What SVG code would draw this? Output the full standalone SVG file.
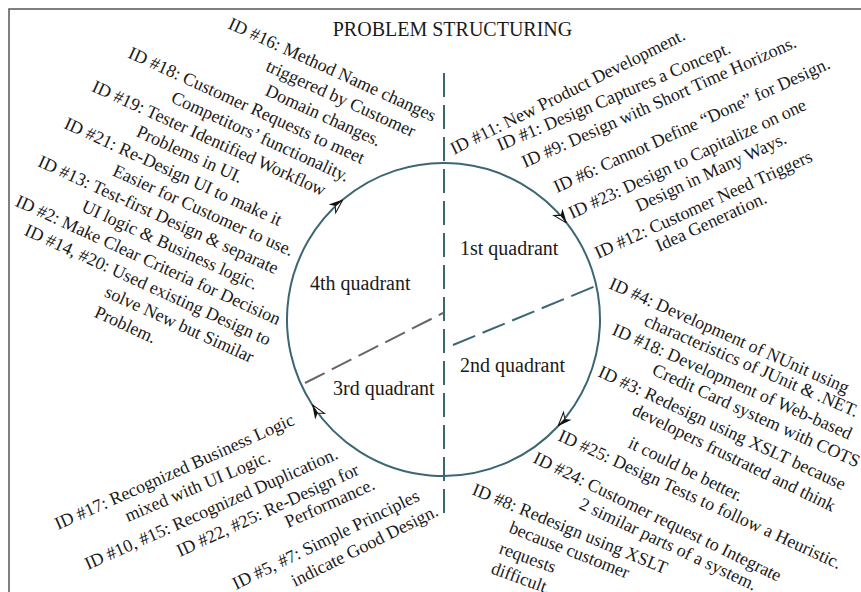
<svg xmlns="http://www.w3.org/2000/svg" width="861" height="592" viewBox="0 0 861 592">
<style>
text{font-family:"Liberation Serif","Times New Roman",serif;fill:#1a1a1a}
.t{font-size:18px}
.q{font-size:20px}
.title{font-size:20px}
.circ{fill:none;stroke:#3b6673;stroke-width:2}
.dash{fill:none;stroke:#3b6673;stroke-width:2;stroke-dasharray:24 8}
.dashg{fill:none;stroke:#666;stroke-width:2;stroke-dasharray:22 8}
</style>
<defs>
<marker id="arr" markerUnits="userSpaceOnUse" markerWidth="20" markerHeight="14" viewBox="-16 -7 18 14" refX="0" refY="0" orient="auto">
<path d="M0,0 L-14,-5.5 L-10,0 Z" fill="#111"/>
<path d="M0,0 L-14,5.5 L-10,0 Z" fill="#fff" stroke="#111" stroke-width="1"/>
</marker>
</defs>
<rect x="0" y="0" width="861" height="592" fill="#fff"/>
<rect id="frame" x="9" y="9" width="900" height="620" fill="none" stroke="#555" stroke-width="1.5"/>
<g id="title"><text class="title" x="452.5" y="36" text-anchor="middle">PROBLEM STRUCTURING</text></g>

<g id="dividers">
<line class="dash" x1="444" y1="73" x2="444" y2="515"/>
<line class="dash" x1="453" y1="345" x2="598" y2="285"/>
<line class="dashg" x1="305" y1="383" x2="443" y2="313"/>
</g>

<g id="connectors">
<path class="circ" d="M312.2,404.7 A156.5,156.5 0 0 1 342.9,199.6" marker-end="url(#arr)"/>
<path class="circ" d="M342.9,199.6 A156.5,156.5 0 0 1 566.8,223.1" marker-end="url(#arr)"/>
<path class="circ" d="M566.8,223.1 A156.5,156.5 0 0 1 558.0,426.2" marker-end="url(#arr)"/>
<path class="circ" d="M558.0,426.2 A156.5,156.5 0 0 1 312.2,404.7" marker-end="url(#arr)"/>
</g>

<g id="q1"><text class="q" x="460" y="255">1st quadrant</text></g>
<g id="q2"><text class="q" x="460" y="372">2nd quadrant</text></g>
<g id="q3"><text class="q" x="333" y="395">3rd quadrant</text></g>
<g id="q4"><text class="q" x="310" y="290">4th quadrant</text></g>

<g id="notes-q1">
<text class="t" x="454" y="155" transform="rotate(-26.5 454 155)">ID #11: New Product Development.</text>
<text class="t" x="500" y="151" transform="rotate(-23 500 151)">ID #1: Design Captures a Concept.</text>
<text class="t" x="525" y="168" transform="rotate(-24 525 168)">ID #9: Design with Short Time Horizons.</text>
<text class="t" x="557" y="193" transform="rotate(-24.5 557 193)">ID #6: Cannot Define “Done” for Design.</text>
<text class="t" x="572" y="219" transform="rotate(-25 572 219)">ID #23: Design to Capitalize on one</text>
<text class="t" x="639" y="212" transform="rotate(-25 639 212)">Design in Many Ways.</text>
<text class="t" x="598" y="259" transform="rotate(-24.5 598 259)">ID #12: Customer Need Triggers</text>
<text class="t" x="659" y="252" transform="rotate(-24.5 659 252)">Idea Generation.</text>
</g>

<g id="notes-q4">
<text class="t" x="227.1" y="28.1" transform="rotate(24.5 227.1 28.1)">ID #16: Method Name changes</text>
<text class="t" x="264.8" y="70.2" transform="rotate(24.5 264.8 70.2)">triggered by Customer</text>
<text class="t" x="264" y="94.8" transform="rotate(24.5 264 94.8)">Domain changes.</text>
<text class="t" x="127" y="57.3" transform="rotate(24.5 127 57.3)">ID #18: Customer Requests to meet</text>
<text class="t" x="169.9" y="101.8" transform="rotate(24.5 169.9 101.8)">Competitors’ functionality.</text>
<text class="t" x="90.8" y="90.7" transform="rotate(24.5 90.8 90.7)">ID #19: Tester Identified Workflow</text>
<text class="t" x="135.2" y="135.8" transform="rotate(24.5 135.2 135.8)">Problems in UI.</text>
<text class="t" x="62.9" y="127.8" transform="rotate(24.5 62.9 127.8)">ID #21: Re-Design UI to make it</text>
<text class="t" x="111.6" y="175" transform="rotate(24.5 111.6 175)">Easier for Customer to use.</text>
<text class="t" x="36.7" y="165.8" transform="rotate(24.5 36.7 165.8)">ID #13: Test-first Design &amp; separate</text>
<text class="t" x="80.4" y="210.6" transform="rotate(24.5 80.4 210.6)">UI logic &amp; Business logic.</text>
<text class="t" x="14.2" y="205.4" transform="rotate(24.5 14.2 205.4)">ID #2: Make Clear Criteria for Decision</text>
<text class="t" x="23.2" y="234.5" transform="rotate(24.5 23.2 234.5)">ID #14, #20: Used existing Design to</text>
<text class="t" x="103.5" y="296.1" transform="rotate(24.5 103.5 296.1)">solve New but Similar</text>
<text class="t" x="93.3" y="316.4" transform="rotate(24.5 93.3 316.4)">Problem.</text>
</g>

<g id="notes-q2">
<text class="t" x="608" y="288" transform="rotate(24 608 288)">ID #4: Development of NUnit using</text>
<text class="t" x="643" y="325" transform="rotate(23.5 643 325)">characteristics of JUnit &amp; .NET.</text>
<text class="t" x="611" y="334" transform="rotate(24 611 334)">ID #18: Development of Web-based</text>
<text class="t" x="651" y="374" transform="rotate(24.5 651 374)">Credit Card system with COTS</text>
<text class="t" x="597" y="376" transform="rotate(25 597 376)">ID #3: Redesign using XSLT because</text>
<text class="t" x="631" y="414" transform="rotate(26 631 414)">developers frustrated and think</text>
<text class="t" x="627" y="447" transform="rotate(26 627 447)">it could be better.</text>
<text class="t" x="557" y="440" transform="rotate(24.7 557 440)">ID #25: Design Tests to follow a Heuristic.</text>
<text class="t" x="532" y="462" transform="rotate(26 532 462)">ID #24: Customer request to Integrate</text>
<text class="t" x="578" y="508" transform="rotate(25.3 578 508)">2 similar parts of a system.</text>
<text class="t" x="471" y="494" transform="rotate(22.5 471 494)">ID #8: Redesign using XSLT</text>
<text class="t" x="508" y="532" transform="rotate(21.5 508 532)">because customer</text>
<text class="t" x="498" y="553" transform="rotate(20 498 553)">requests</text>
<text class="t" x="490" y="573" transform="rotate(20 490 573)">difficult.</text>
</g>

<g id="notes-q3">
<text class="t" x="58" y="530" transform="rotate(-24 58 530)">ID #17: Recognized Business Logic</text>
<text class="t" x="128" y="522" transform="rotate(-23 128 522)">mixed with UI Logic.</text>
<text class="t" x="88" y="570" transform="rotate(-24 88 570)">ID #10, #15: Recognized Duplication.</text>
<text class="t" x="180" y="557" transform="rotate(-24.7 180 557)">ID #22, #25: Re-Design for</text>
<text class="t" x="288" y="528" transform="rotate(-24 288 528)">Performance.</text>
<text class="t" x="236" y="590" transform="rotate(-26 236 590)">ID #5, #7: Simple Principles</text>
<text class="t" x="295" y="587" transform="rotate(-26.5 295 587)">indicate Good Design.</text>
</g>
</svg>
